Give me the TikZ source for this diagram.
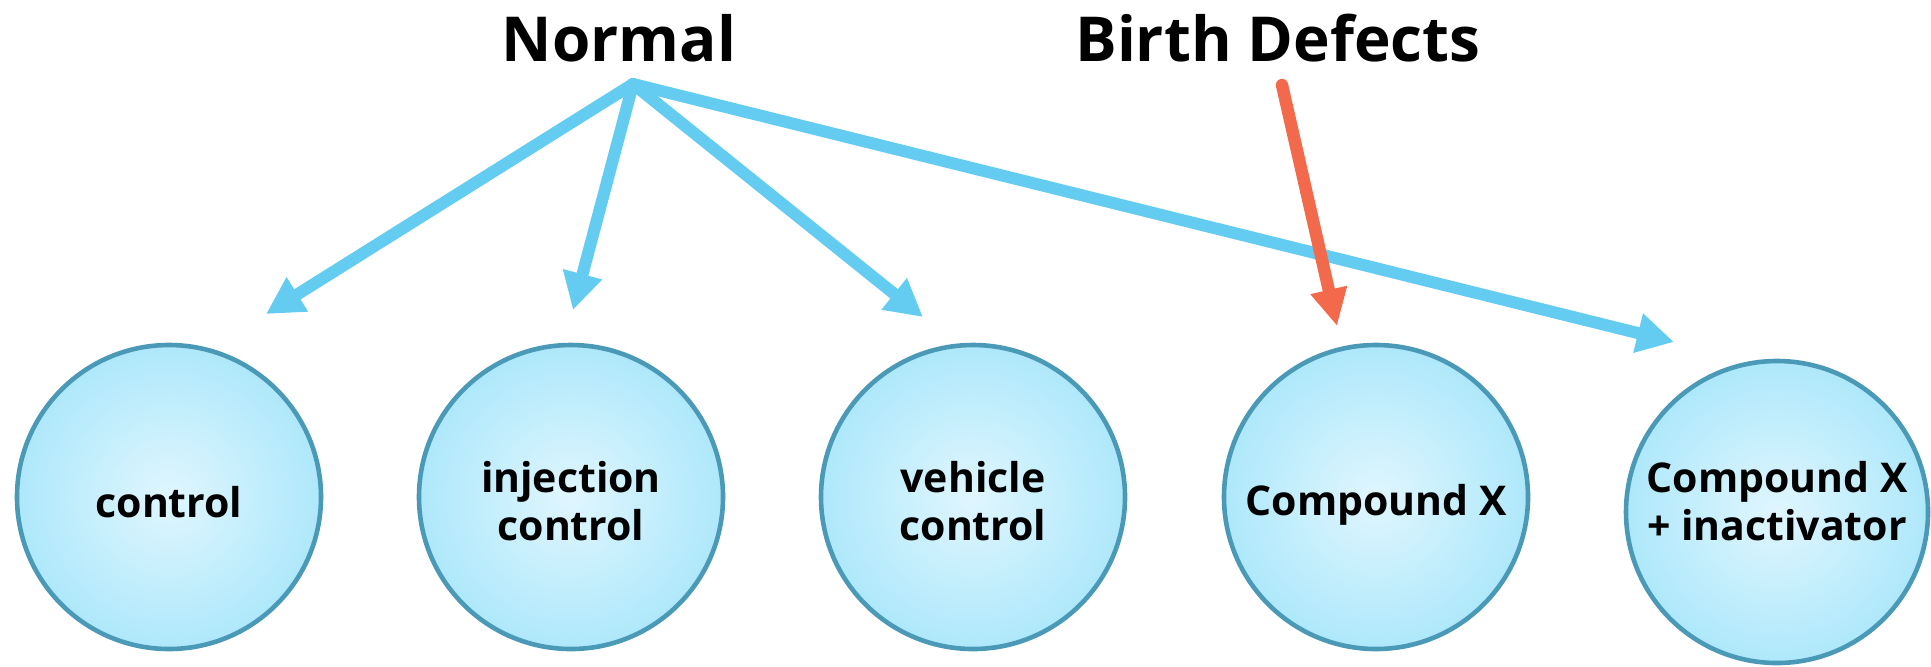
\documentclass[tikz,border=0pt]{standalone}
\usepackage{fontspec}
\setmainfont{Open Sans}
\usetikzlibrary{arrows.meta}
\definecolor{arrowblue}{HTML}{63CCF0}
\definecolor{arrowred}{HTML}{F2694B}
\definecolor{rim}{HTML}{4A99B6}
\definecolor{fillin}{HTML}{E0F6FE}
\definecolor{fillout}{HTML}{AEE8FB}
\begin{document}
\begin{tikzpicture}[x=0.5pt,y=-0.5pt,
  disc/.style={circle, draw=rim, line width=2.3pt, inner color=fillin, outer color=fillout, minimum size=152pt, inner sep=0pt},
  lab/.style={font=\bfseries\fontsize{20.5}{24}\selectfont, align=center, anchor=base, inner sep=0pt},
  heading/.style={font=\bfseries\fontsize{31}{37}\selectfont, anchor=base, inner sep=0pt},
  link/.style={draw=arrowblue, line width=6pt, line cap=round, line join=round, -{Triangle[length=18.5pt,width=19pt]}},
  harm/.style={draw=arrowred, line width=6.2pt, line cap=round, -{Triangle[length=18.5pt,width=17.5pt]}}
]
\useasboundingbox (0,0) rectangle (1931,666);

% circles
\node[disc] (c1) at (169,497) {};
\node[disc] (c2) at (571,497) {};
\node[disc] (c3) at (973,497) {};
\node[disc] (c4) at (1376,497) {};
\node[disc, minimum size=151pt] (c5) at (1777,512) {};

% circle labels (base = baseline of last line)
\node[lab] (t1) at (169,517) {control};
\node[lab] (t2) at (571,540) {injection\\control};
\node[lab] (t3) at (973,540) {vehicle\\control};
\node[lab] (t4) at (1376,515) {Compound X};
\node[lab] (t5) at (1777,540) {Compound X\\+ inactivator};

% headings
\node[heading] (normal) at (619,61) {Normal};
\node[heading] (defects) at (1278,61) {Birth Defects};

% connector ends
\coordinate (hub) at (633,84);
\coordinate (e1) at (266,314);
\coordinate (e2) at (573,310);
\coordinate (e3) at (923,317);
\coordinate (e4) at (1674,342);
\coordinate (r0) at (1282,85);
\coordinate (r1) at (1337,326);

\draw[link] (hub) -- (e1);
\draw[link] (hub) -- (e2);
\draw[link] (hub) -- (e3);
\draw[link] (hub) -- (e4);
\draw[harm] (r0) -- (r1);
\end{tikzpicture}
\end{document}
